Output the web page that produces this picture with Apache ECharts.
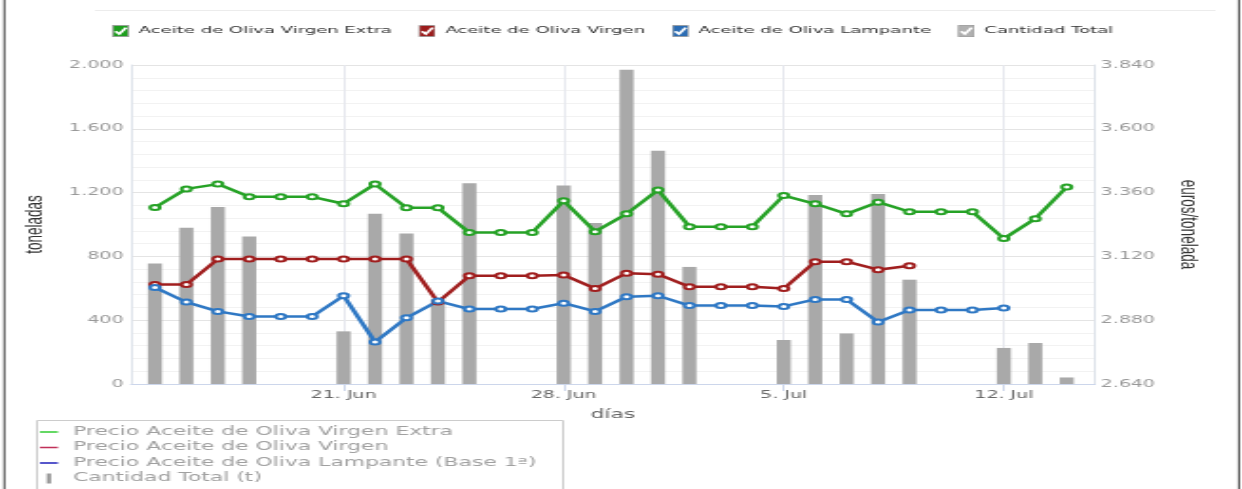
<!DOCTYPE html>
<html><head><meta charset="utf-8">
<script src="https://cdn.jsdelivr.net/npm/echarts@6/dist/echarts.min.js"></script>
<style>
html,body{margin:0;padding:0;background:#fff;overflow:hidden;width:1242px;height:489px}
#wrap{width:1242px;height:489px;overflow:hidden;position:relative}
#c{width:654px;height:489px;transform:scaleX(1.899083);transform-origin:0 0;position:absolute;left:0;top:0}
</style>
</head><body><div id="wrap"><div id="c"></div></div>
<script>
// ---- data ----
const days = [15,16,17,18,19,20,21,22,23,24,25,26,27,28,29,30,31,32,33,34,35,36,37,38,39,40,41,42,43,44]; // day of month counted from 1 Jun
const tickDays = [21, 28, 35, 42];
const tickLabels = ['21. Jun', '28. Jun', '5. Jul', '12. Jul'];
const cantidad = [755,980,1110,925,null,null,330,1068,944,530,1258,null,null,1245,1010,1971,1463,734,null,null,276,1185,317,1191,654,null,null,226,257,41];
const virgenExtra = [3304,3374,3392,3344,3344,3344,3318,3392,3303,3303,3210,3210,3210,3329,3213,3280,3370,3232,3232,3232,3349,3318,3280,3324,3288,3288,3288,3187,3262,3381];
const virgen = [3014,3014,3110,3110,3110,3110,3110,3110,3110,2948,3047,3047,3047,3050,2999,3057,3053,3006,3006,3006,2999,3100,3100,3070,3085,null,null,null,null,null];
const lampante = [3003,2948,2913,2894,2894,2894,2972,2798,2889,2952,2922,2922,2922,2944,2913,2968,2972,2935,2935,2935,2932,2958,2958,2873,2918,2918,2918,2926,null,null];
const leftTicks = [0, 2000, 400];
const rightTicks = [2640, 3840, 240];
const seriesNames = ['Aceite de Oliva Virgen Extra', 'Aceite de Oliva Virgen', 'Aceite de Oliva Lampante', 'Cantidad Total'];
const bottomNames = ['Precio Aceite de Oliva Virgen Extra', 'Precio Aceite de Oliva Virgen', 'Precio Aceite de Oliva Lampante (Base 1ª)', 'Cantidad Total (t)'];
// ---------------

const pairs = arr => days.map((d, i) => [d, arr[i]]).filter(p => p[1] !== null);
const fmt = v => String(v).replace(/\B(?=(\d{3})+(?!\d))/g, '.');
const dayLabel = v => { const i = tickDays.indexOf(Math.round(v)); return i >= 0 ? tickLabels[i] : ''; };
function checkIcon(c) {
  const svg = '<svg xmlns="http://www.w3.org/2000/svg" width="9" height="12" viewBox="0 0 9 12" preserveAspectRatio="none">' +
    '<rect x="0.4" y="0.4" width="8.2" height="11.2" fill="' + c + '" stroke="#9a9a9a" stroke-width="0.8"/>' +
    '<path d="M1.8 6.2 L3.8 9 L7.4 2.6" stroke="#fff" stroke-width="1.7" fill="none"/></svg>';
  return 'image://data:image/svg+xml;charset=utf-8,' + encodeURIComponent(svg);
}
const COL = { extra: '#26a226', virgen: '#a01e1e', lamp: '#2f78c4', bar: '#a9a9a9' };
const chart = echarts.init(document.getElementById('c'), null, { renderer: 'canvas' });
const nameMap = {};
seriesNames.forEach((n, i) => nameMap[n] = bottomNames[i]);

chart.setOption({
  animation: false,
  backgroundColor: '#fff',
  grid: { left: 69, right: 77.4, top: 65, bottom: 105, containLabel: false },
  legend: [
    {
      left: 54, top: 20, itemWidth: 9, itemHeight: 12, itemGap: 14,
      textStyle: { fontFamily: 'DejaVu Sans', fontSize: 9.5, color: '#333' },
      data: [
        { name: seriesNames[0], icon: checkIcon('#1e9e1e') },
        { name: seriesNames[1], icon: checkIcon('#9c1c1c') },
        { name: seriesNames[2], icon: checkIcon('#2a6cb4') },
        { name: seriesNames[3], icon: checkIcon('#b0b0b0') }
      ]
    },
    {
      orient: 'vertical', left: 16, top: 426, height: 90, padding: [0, 5, 0, 5], itemWidth: 9.5, itemHeight: 10, itemGap: 3.5,
      formatter: n => nameMap[n],
      textStyle: { fontFamily: 'DejaVu Sans', fontSize: 11.5, lineHeight: 12, color: '#a0a0a0', padding: [0, 0, 0, 3] },
      data: [
        { name: seriesNames[0], icon: 'path://M0 0H10V1.6H0Z', itemStyle: { color: '#33cc33' } },
        { name: seriesNames[1], icon: 'path://M0 0H10V1.6H0Z', itemStyle: { color: '#c03058' } },
        { name: seriesNames[2], icon: 'path://M0 0H10V1.6H0Z', itemStyle: { color: '#2222bb' } },
        { name: seriesNames[3], icon: 'path://M0 0H1.6V7H0Z', itemStyle: { color: '#999999' } }
      ]
    }
  ],
  xAxis: {
    type: 'value', min: 14.24, max: 44.9,
    name: 'días', nameLocation: 'middle', nameGap: 25,
    nameTextStyle: { fontFamily: 'DejaVu Sans', fontSize: 11.5, color: '#666' },
    axisLine: { show: true, lineStyle: { color: '#ccd6eb', width: 1 } },
    axisTick: { show: true, customValues: tickDays, length: 7, lineStyle: { color: '#ccd6eb' } },
    axisLabel: { customValues: tickDays, formatter: dayLabel, margin: 6, fontFamily: 'DejaVu Sans', fontSize: 10, color: '#666' },
    splitLine: { show: false }
  },
  yAxis: [
    {
      type: 'value', min: leftTicks[0], max: leftTicks[1], interval: leftTicks[2], position: 'left',
      name: 'toneladas', nameLocation: 'middle', nameGap: 42, nameRotate: 90,
      nameTextStyle: { fontFamily: 'Liberation Sans', fontSize: 13.5, color: '#333' },
      axisLine: { show: true, lineStyle: { color: '#dde2ea' } },
      axisTick: { show: false },
      axisLabel: { formatter: fmt, margin: 4, fontFamily: 'DejaVu Sans', fontSize: 10, color: '#999', padding: [0, 0, 8, 0] },
      splitLine: { show: true, lineStyle: { color: '#e4e4e4', width: 1 } },
      minorTick: { show: false, splitNumber: 5 },
      minorSplitLine: { show: true, lineStyle: { color: '#f2f2f2', width: 1 } }
    },
    {
      type: 'value', min: rightTicks[0], max: rightTicks[1], interval: rightTicks[2], position: 'right',
      name: 'euros/tonelada', nameLocation: 'middle', nameGap: 37, nameRotate: -90,
      nameTextStyle: { fontFamily: 'Liberation Sans', fontSize: 13.5, color: '#333' },
      axisLine: { show: true, lineStyle: { color: '#dde2ea' } },
      axisTick: { show: false },
      axisLabel: { formatter: fmt, margin: 3, fontFamily: 'DejaVu Sans', fontSize: 10, color: '#999', padding: [0, 0, 8, 0] },
      splitLine: { show: false }
    }
  ],
  graphic: [
    { type: 'line', silent: true, shape: { x1: 2.3, y1: 0, x2: 2.3, y2: 489 }, style: { stroke: '#444', lineWidth: 1 } },
    { type: 'line', silent: true, shape: { x1: 652.4, y1: 0, x2: 652.4, y2: 489 }, style: { stroke: '#444', lineWidth: 1 } },
    { type: 'line', silent: true, shape: { x1: 50, y1: 10.5, x2: 640, y2: 10.5 }, style: { stroke: '#ececec', lineWidth: 1 } },
    { type: 'rect', silent: true, shape: { x: 19.5, y: 420.5, width: 277, height: 100 }, style: { fill: 'none', stroke: '#cccccc', lineWidth: 1 } }
  ],
  series: [
    {
      type: 'bar', name: seriesNames[3], yAxisIndex: 0, data: pairs(cantidad), barWidth: 7.4,
      itemStyle: { color: COL.bar }, z: 2,
      markLine: {
        silent: true, symbol: 'none', z: 1, animation: false,
        label: { show: false },
        lineStyle: { color: '#e6e8ee', width: 1, type: 'solid' },
        data: tickDays.map(d => ({ xAxis: d }))
      }
    },
    {
      type: 'line', name: seriesNames[0], yAxisIndex: 1, data: pairs(virgenExtra), z: 4,
      symbol: 'emptyCircle', symbolSize: 5, lineStyle: { color: COL.extra, width: 2.5 },
      itemStyle: { color: COL.extra, borderWidth: 1.6 }
    },
    {
      type: 'line', name: seriesNames[1], yAxisIndex: 1, data: pairs(virgen), z: 4,
      symbol: 'emptyCircle', symbolSize: 5, lineStyle: { color: COL.virgen, width: 2.5 },
      itemStyle: { color: COL.virgen, borderWidth: 1.6 }
    },
    {
      type: 'line', name: seriesNames[2], yAxisIndex: 1, data: pairs(lampante), z: 4,
      symbol: 'emptyCircle', symbolSize: 5, lineStyle: { color: COL.lamp, width: 2.5 },
      itemStyle: { color: COL.lamp, borderWidth: 1.6 }
    }
  ]
});
</script>
</body></html>
